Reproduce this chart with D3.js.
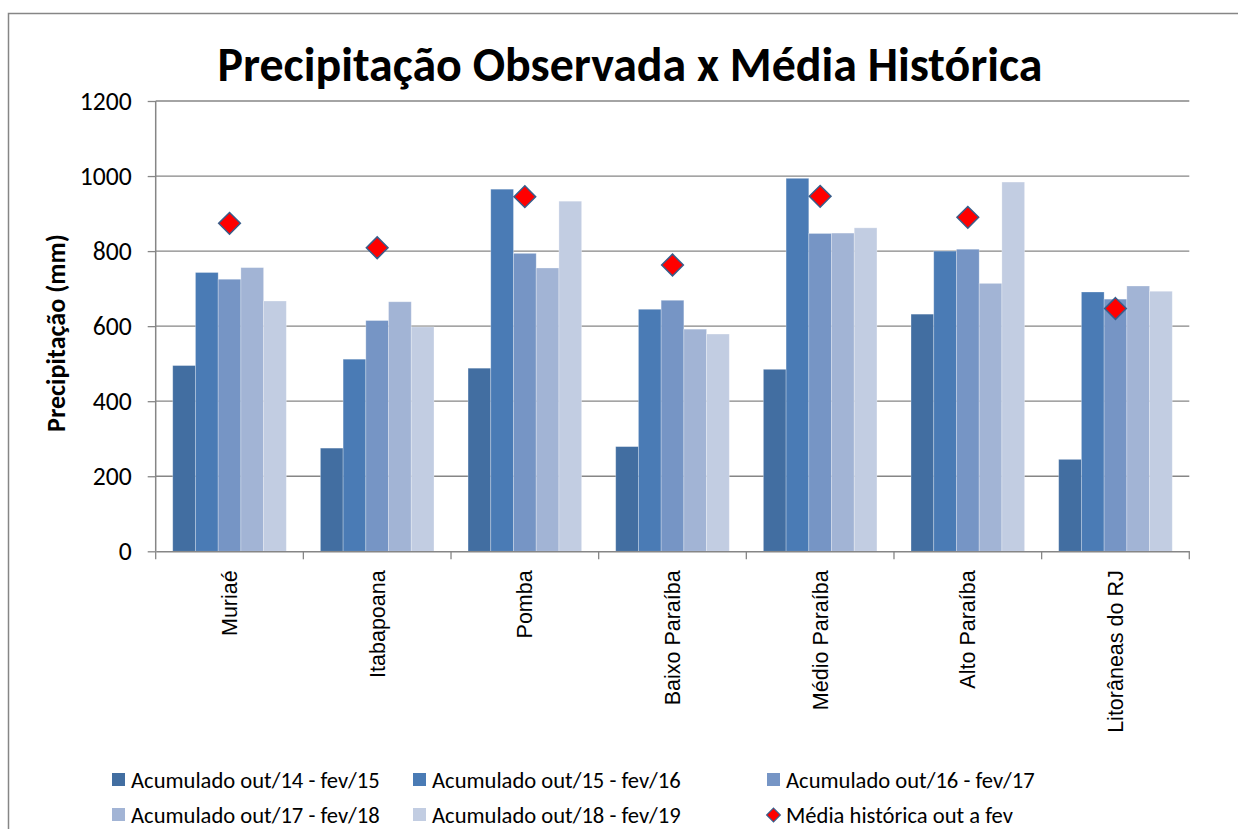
<!DOCTYPE html>
<html>
<head>
<meta charset="utf-8">
<script src="https://cdn.jsdelivr.net/npm/d3@7"></script>
<style>
  body { margin: 0; background: #fff; }
  svg { display: block; }
</style>
</head>
<body>
<script>
var categories = ['Muriaé', 'Itabapoana', 'Pomba', 'Baixo Paraíba', 'Médio Paraíba', 'Alto Paraíba', 'Litorâneas do RJ'];
var seriesNames = ['Acumulado out/14 - fev/15', 'Acumulado out/15 - fev/16', 'Acumulado out/16 - fev/17', 'Acumulado out/17 - fev/18', 'Acumulado out/18 - fev/19'];
var seriesColors = ['#426ea1', '#4a7bb5', '#7695c5', '#a2b4d5', '#c2cde2'];
var acum14 = [495, 275, 488, 279, 485, 632, 245];
var acum15 = [743, 512, 965, 645, 994, 800, 691];
var acum16 = [725, 615, 794, 669, 847, 805, 672];
var acum17 = [756, 665, 755, 592, 848, 714, 707];
var acum18 = [667, 598, 933, 579, 862, 984, 693];
var mediaHist = [874, 809, 945, 763, 946, 890, 647];
var mediaName = 'Média histórica out a fev';
var yTicks = [0, 200, 400, 600, 800, 1000, 1200];

var seriesValues = [acum14, acum15, acum16, acum17, acum18];

var W = 1238, H = 829;
var plotL = 155.7, plotR = 1189.3, plotT = 101, plotB = 551.3;
var calibri = 'Carlito, Calibri, Lato, sans-serif';

// shrink/grow a text's font so it spans the given width
function fitWidth(sel, target) {
    sel.each(function() {
        var t = d3.select(this);
        var fs = parseFloat(t.attr('font-size'));
        var w = this.getComputedTextLength();
        if (w > 0) t.attr('font-size', (fs * target / w).toFixed(2));
    });
}

var svg = d3.select('body').append('svg').attr('width', W).attr('height', H);

// outer chart border (right and bottom edges fall outside the window)
svg.append('rect')
    .attr('x', 8.5).attr('y', 13.5)
    .attr('width', W + 20).attr('height', H + 20)
    .attr('fill', '#fff').attr('stroke', '#868686').attr('stroke-width', 1.5);

var x0 = d3.scaleBand().domain(categories).range([plotL, plotR]).padding(0);
var x1 = d3.scaleBand().domain(d3.range(seriesNames.length)).range([0, x0.bandwidth()])
    .paddingInner(0).paddingOuter(0.75);
var y = d3.scaleLinear().domain([0, 1200]).range([plotB, plotT]);

// gridlines
svg.append('g').selectAll('line.grid')
    .data(yTicks.filter(d => d > 0))
    .enter().append('line')
        .attr('class', 'grid')
        .attr('x1', plotL).attr('x2', plotR)
        .attr('y1', d => y(d)).attr('y2', d => y(d))
        .attr('stroke', '#868686').attr('stroke-width', 1.3);

// bars
var groups = svg.append('g').selectAll('g.cat')
    .data(categories)
    .enter().append('g')
        .attr('class', 'cat')
        .attr('transform', d => 'translate(' + x0(d) + ',0)');

groups.selectAll('rect')
    .data((d, i) => seriesValues.map((s, j) => ({s: j, v: s[i]})))
    .enter().append('rect')
        .attr('x', d => x1(d.s))
        .attr('y', d => y(d.v))
        .attr('width', x1.bandwidth())
        .attr('height', d => y(0) - y(d.v))
        .attr('fill', d => seriesColors[d.s])
        .attr('stroke', 'rgba(255,255,255,0.35)').attr('stroke-width', 0.8);

// y axis
var yAxis = d3.axisLeft(y).tickValues(yTicks).tickSize(8).tickPadding(16).tickFormat(d3.format('d'));
var gy = svg.append('g').attr('transform', 'translate(' + plotL + ',0)').call(yAxis);
gy.select('.domain').attr('stroke', '#868686').attr('stroke-width', 1.5).attr('d', 'M0,' + plotT + 'V' + plotB);
gy.selectAll('.tick line').attr('stroke', '#868686').attr('stroke-width', 1.3);
var yLabels = gy.selectAll('.tick text').attr('font-family', calibri).attr('font-size', 23).attr('fill', '#000');
// size all tick labels from the widest one
var topLabel = yLabels.filter(d => d === 1200);
topLabel.call(fitWidth, 52);
yLabels.attr('font-size', topLabel.attr('font-size'));

// x axis
var xAxis = d3.axisBottom(x0).tickSize(0).tickFormat(d => d);
var gx = svg.append('g').attr('transform', 'translate(0,' + plotB + ')').call(xAxis);
gx.select('.domain').attr('stroke', '#868686').attr('stroke-width', 1.5);
gx.selectAll('.tick line').remove();
gx.selectAll('.tick text')
    .attr('font-family', 'Liberation Sans, Arial, sans-serif').attr('font-size', 21.5).attr('fill', '#000')
    .attr('text-anchor', 'end')
    .attr('transform', 'rotate(-90)')
    .attr('x', -19).attr('y', 0).attr('dy', '0.35em');

// category separators
svg.append('g').selectAll('line.sep')
    .data(d3.range(categories.length + 1))
    .enter().append('line')
        .attr('x1', i => plotL + i * x0.step()).attr('x2', i => plotL + i * x0.step())
        .attr('y1', plotB).attr('y2', plotB + 8)
        .attr('stroke', '#868686').attr('stroke-width', 1.3);

// historical average diamonds
var diamond = d3.symbol().type(d3.symbolDiamond2).size(300);
svg.append('g').selectAll('path.media')
    .data(mediaHist)
    .enter().append('path')
        .attr('class', 'media')
        .attr('d', diamond)
        .attr('transform', (d, i) => 'translate(' + (x0(categories[i]) + x1(2) + x1.bandwidth() / 2) + ',' + y(d) + ')')
        .attr('fill', '#ff0000').attr('stroke', '#385d8a').attr('stroke-width', 1.5);

// title
svg.append('text')
    .attr('x', 630).attr('y', 81)
    .attr('text-anchor', 'middle')
    .attr('font-family', calibri).attr('font-weight', 'bold').attr('font-size', 46)
    .text('Precipitação Observada x Média Histórica')
    .call(fitWidth, 825);

// y axis title
svg.append('text')
    .attr('transform', 'translate(65,333) rotate(-90)')
    .attr('text-anchor', 'middle')
    .attr('font-family', calibri).attr('font-weight', 'bold').attr('font-size', 24)
    .text('Precipitação (mm)')
    .call(fitWidth, 198);

// legend
var legendItems = seriesNames.map((n, i) => ({name: n, color: seriesColors[i], type: 'bar'}))
    .concat([{name: mediaName, color: '#ff0000', type: 'diamond'}]);
var colX = [112, 413, 767];
var rowY = [780, 815];

var leg = svg.append('g').selectAll('g.leg')
    .data(legendItems)
    .enter().append('g')
        .attr('class', 'leg')
        .attr('transform', (d, i) => 'translate(' + colX[i % 3] + ',' + rowY[Math.floor(i / 3)] + ')');

leg.filter(d => d.type === 'bar').append('rect')
    .attr('x', 0).attr('y', -7).attr('width', 13).attr('height', 13)
    .attr('fill', d => d.color);

leg.filter(d => d.type === 'diamond').append('path')
    .attr('d', d3.symbol().type(d3.symbolDiamond2).size(120))
    .attr('transform', 'translate(6.5,0)')
    .attr('fill', '#ff0000').attr('stroke', '#385d8a').attr('stroke-width', 1.2);

leg.append('text')
    .attr('x', 19).attr('y', 0).attr('dy', '0.35em')
    .attr('font-family', calibri).attr('font-size', 22.6)
    .text(d => d.name);
</script>
</body>
</html>
